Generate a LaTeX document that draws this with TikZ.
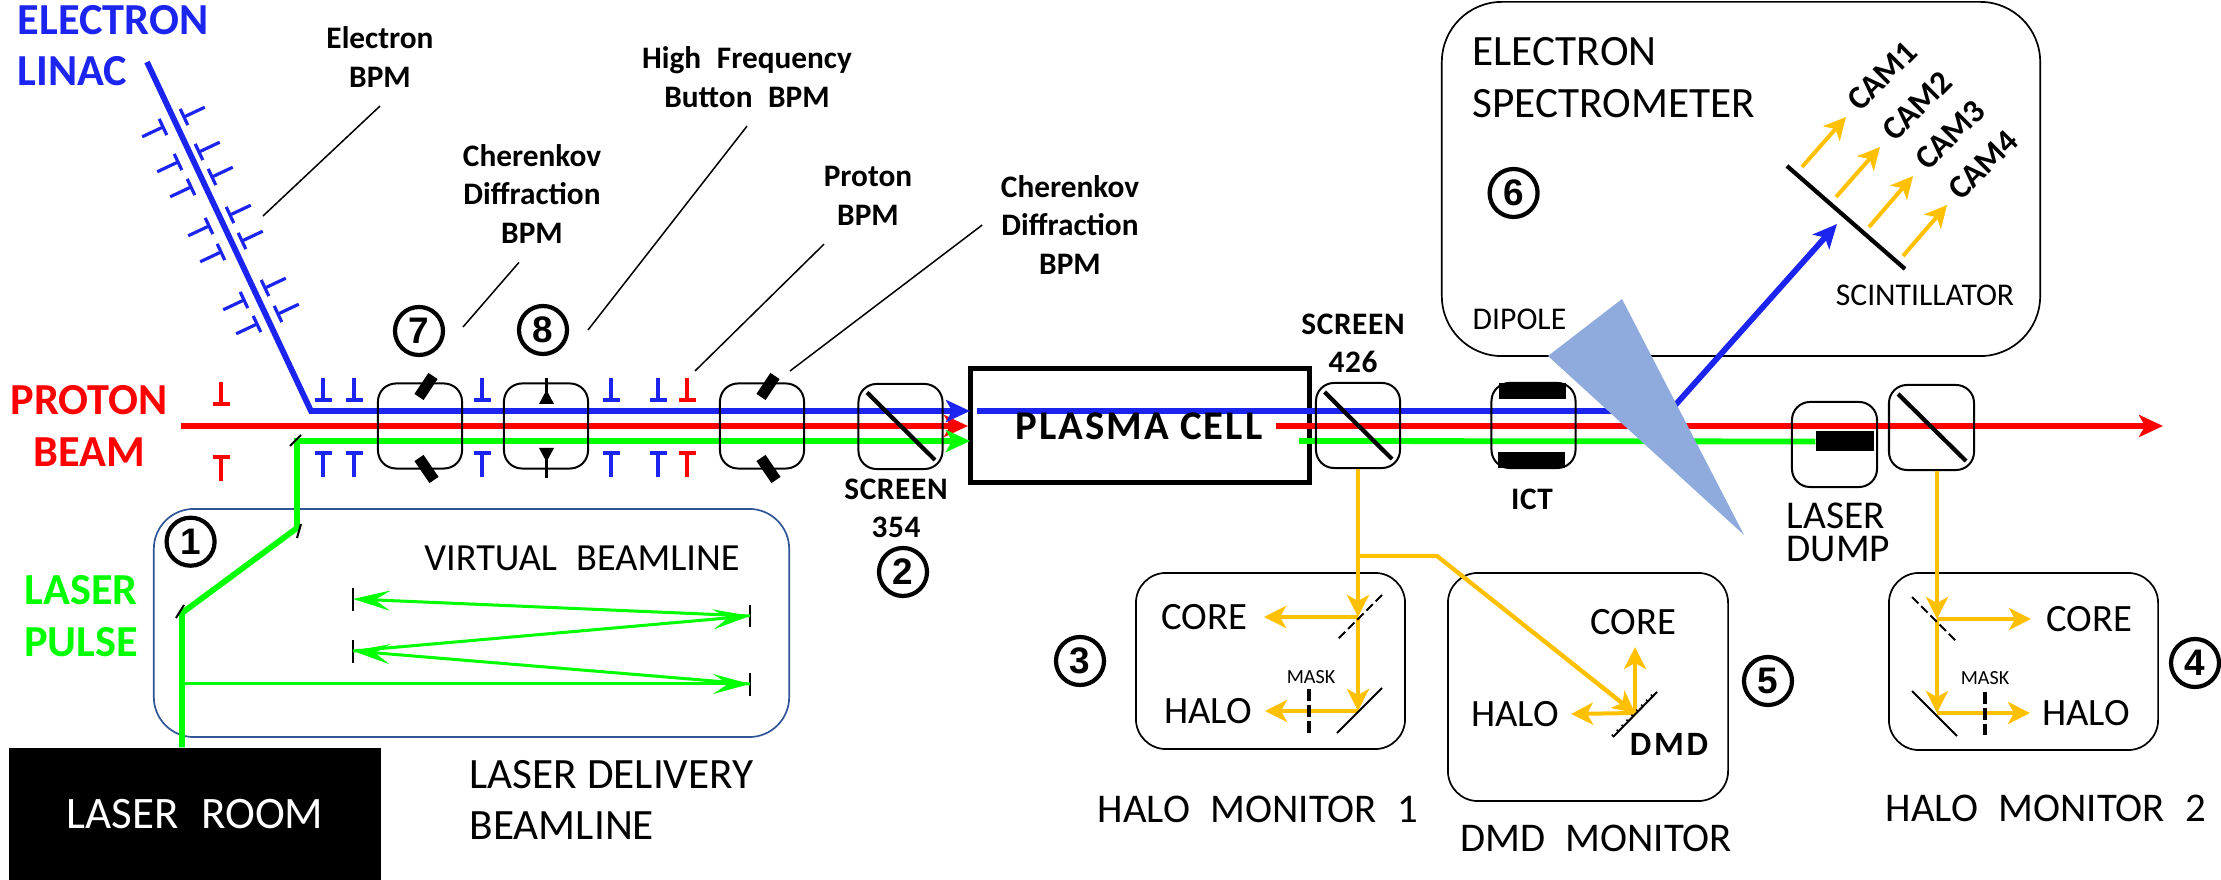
\documentclass[tikz,border=0pt]{standalone}
\usepackage{fontspec}
\setmainfont{Carlito}
\newfontfamily\numfont{Liberation Sans}
\newcommand{\wgap}{\hspace{.5em}}
\usetikzlibrary{
  arrows.meta,
  calc
}
\definecolor{beamblue}{RGB}{28,36,240}
\definecolor{beamred}{RGB}{255,0,0}
\definecolor{beamgreen}{RGB}{0,255,0}
\definecolor{lightorange}{RGB}{255,192,0}
\definecolor{dipoleblue}{RGB}{143,170,220}
\definecolor{deliveryblue}{RGB}{47,85,151}
\tikzset{
  detbox/.style={
    draw,
    rounded corners=1.8mm,
    line width=.2mm,
    minimum width=8.4mm,
    minimum height=8.5mm,
    inner sep=0pt
  },
  roombox/.style={draw,rounded corners=3mm,line width=.17mm,inner sep=0pt},
  numcircle/.style={
    circle,
    draw,
    line width=.42mm,
    minimum size=4.8mm,
    inner sep=0pt,
    font=\numfont\fontsize{10.5}{12}\selectfont\bfseries
  },
  beamname/.style={align=center,inner sep=0pt,font=\fontsize{12.6}{14.6}\selectfont\bfseries},
  bpmlabel/.style={align=center,inner sep=1.8mm,font=\fontsize{8.9}{11}\selectfont\bfseries},
  bignote/.style={align=left,inner sep=0pt,font=\fontsize{12.3}{14.7}\selectfont},
  midnote/.style={align=center,inner sep=0pt,font=\fontsize{11}{13}\selectfont},
  monitornote/.style={inner sep=0pt,font=\fontsize{11.6}{14}\selectfont},
  smallnote/.style={inner sep=0pt,font=\fontsize{9}{11}\selectfont},
  screennote/.style={align=center,inner sep=0pt,font=\fontsize{8.9}{11}\selectfont\bfseries\addfontfeature{LetterSpace=2}},
  camnote/.style={rotate=45,inner sep=0pt,font=\fontsize{9.4}{11}\selectfont\bfseries},
  masknote/.style={inner sep=0pt,font=\fontsize{5.7}{7}\selectfont},
  beamline/.style={line width=.58mm,line join=miter},
  beamtip/.style={-{Stealth[length=2.4mm,width=2.2mm,inset=.6mm]}},
  thingreen/.style={draw=beamgreen,line width=.3mm,-{Stealth[length=3.7mm,width=2mm,inset=1.5mm]}},
  opticline/.style={draw=lightorange,line width=.4mm},
  optictip/.style={opticline,-{Stealth[length=2.2mm,width=2.2mm,inset=.6mm]}},
  bpmblue/.style={draw=beamblue,line width=.32mm},
  bpmred/.style={draw=beamred,line width=.32mm},
  leader/.style={draw=black,line width=.15mm},
  mirror/.style={draw=black,line width=.2mm},
  halfmirror/.style={mirror,dash pattern=on .9mm off .4mm},
  maskline/.style={draw=black,line width=.35mm,dash pattern=on 1.2mm off .4mm},
  screenline/.style={draw=black,line width=.42mm},
  cdbar/.style={draw=black,line width=1.1mm},
}
\begin{document}
\begin{tikzpicture}[x=0.01cm,y=-0.01cm]
  \useasboundingbox (0,0) rectangle (2221,880);

  % Laser delivery box
  \node[roombox,draw=deliveryblue,rounded corners=4mm,minimum width=63.5mm,minimum height=22.8mm] (delivery) at (471.5,623) {};
  \node[roombox,rounded corners=6mm,minimum width=59.8mm,minimum height=35.4mm] (spectro) at (1741,179) {};

  % Beams
  \node[draw=black,line width=.5mm,minimum width=33.8mm,minimum height=11.3mm,inner sep=0pt] (plasma) at (1140,425.5) {};
  \coordinate (protonstart) at (181,426);
  \coordinate (protonin) at (968,426);
  \coordinate (protonout) at (1276,426);
  \coordinate (protonend) at (2163,426);
  \coordinate (linacstart) at (147,62);
  \coordinate (linacbend) at (311,411);
  \coordinate (electronin) at (970,411);
  \coordinate (electronout) at (977,411);
  \coordinate (dipolebend) at (1670,411);
  \coordinate (scintspot) at (1837,224);
  \coordinate (laserbendA) at (182,613);
  \coordinate (laserbendB) at (297,528);
  \coordinate (laserbendC) at (297,441);
  \coordinate (laserin) at (970,441);
  \coordinate (laserout) at (1299,441);
  \node[fill=black,minimum width=5.8mm,minimum height=2mm,inner sep=0pt] (dumpblock) at (1845,441.5) {};
  \node[fill=black,text=white,minimum width=37.2mm,minimum height=13.2mm,inner sep=0pt,font=\fontsize{12.8}{15}\selectfont] (laserroom) at (195,814) {LASER\wgap ROOM};
  \draw[beamline,beamtip,draw=beamred] (protonstart) -- (protonin);
  \draw[beamline,beamtip,draw=beamred] (protonout) -- (protonend);
  \draw[beamline,beamtip,draw=beamblue] (linacstart) -- (linacbend) -- (electronin);
  \draw[beamline,beamtip,draw=beamblue] (electronout) -- (dipolebend) -- (scintspot);
  \draw[beamline,beamtip,draw=beamgreen] (laserroom.north -| laserbendA) -- (laserbendA) -- (laserbendB) -- (laserbendC) -- (laserin);
  \draw[beamline,draw=beamgreen] (laserout) -- (dumpblock.west);
  \fill[dipoleblue] (1622,299) -- (1548,356) -- (1744,535) -- cycle;

  % Steering mirrors and virtual beamline
  \draw[mirror] (301,435) -- (290,446);
  \draw[mirror] (301,524) -- (297,538);
  \draw[mirror] (184,605) -- (176,618);
  \coordinate (vbA) at (353,599);
  \coordinate (vbB) at (353,651);
  \coordinate (vbC) at (750,616);
  \coordinate (vbD) at (750,684);
  \draw[mirror] (353,588) -- (353,611);
  \draw[mirror] (353,640) -- (353,663);
  \draw[mirror] (750,605) -- (750,627);
  \draw[mirror] (750,673) -- (750,696);
  \draw[thingreen] (182,684) -- (vbD);
  \draw[thingreen] (vbD) -- (vbB);
  \draw[thingreen] (vbB) -- (vbC);
  \draw[thingreen] (vbC) -- (vbA);

  % Electron BPMs on the linac
  \foreach \bx/\by in {184/117,199/152,212/177,230/215,242/241,265/288,278/314}
    \draw[bpmblue] (\bx-3.8,\by-8.1) -- (\bx+3.8,\by+8.1) (\bx,\by) -- (\bx+20.8,\by-9.8);
  \foreach \bx/\by in {163/127,178/162,191/187,209/226,221/252,244/300,257/324}
    \draw[bpmblue] (\bx-3.8,\by-8.1) -- (\bx+3.8,\by+8.1) (\bx,\by) -- (\bx-20.8,\by+9.8);

  % BPMs on the common line
  \foreach \bx in {323,354,482,611,658} {
    \draw[bpmblue] (\bx-8.5,400) -- (\bx+8.5,400) (\bx,400) -- (\bx,378);
    \draw[bpmblue] (\bx-8.5,453) -- (\bx+8.5,453) (\bx,453) -- (\bx,477);
  }
  \foreach \bx/\by in {221/4,687/0} {
    \draw[bpmred] (\bx-8.5,400+\by) -- (\bx+8.5,400+\by) (\bx,400+\by) -- (\bx,378+\by);
    \draw[bpmred] (\bx-8.5,453+\by) -- (\bx+8.5,453+\by) (\bx,453+\by) -- (\bx,477+\by);
  }

  % Boxes along the beam
  \node[detbox] (cdbpmA) at (420,426) {};
  \node[detbox] (button) at (546,426) {};
  \node[detbox] (cdbpmB) at (762,426) {};
  \node[detbox] (screenA) at (900.5,426.5) {};
  \node[detbox] (screenB) at (1358,425.5) {};
  \node[detbox] (ict) at (1533.5,425.5) {};
  \node[detbox,minimum width=8.5mm] (dump) at (1834.5,444.5) {};
  \node[detbox,minimum width=8.5mm] (screenC) at (1931.5,427.5) {};
  \foreach \sx in {0,342} {
    \draw[cdbar] (433+\sx,376) -- (419+\sx,397);
    \draw[cdbar] (419+\sx,458) -- (434+\sx,480);
  }
  \draw[black,line width=.3mm] (546,378) -- (546,404);
  \fill (539,404) -- (554,404) -- (546.5,390) -- cycle;
  \draw[black,line width=.3mm] (546,448) -- (546,478);
  \fill (539,448) -- (554,448) -- (546.5,462) -- cycle;
  \draw[screenline] (867,392.5) -- (935,460);
  \draw[screenline] (1324.5,392) -- (1392,459);
  \draw[screenline] (1898,394) -- (1966,461);
  \fill (1499,383) rectangle (1566,399);
  \fill (1498,452) rectangle (1565,468);

  % Beam and BPM labels
  \node[beamname,text=beamblue,align=left,anchor=west] (elinac) at (17,45.5) {ELECTRON\\LINAC};
  \node[beamname,text=beamred] (pbeam) at (89,426) {PROTON\\BEAM};
  \node[beamname,text=beamgreen] (lpulse) at (81,616) {LASER\\PULSE};
  \node[bpmlabel] (lbEBPM) at (380,57) {Electron\\BPM};
  \node[bpmlabel] (lbButton) at (747,77) {High\wgap Frequency\\Button\wgap BPM};
  \node[bpmlabel] (lbCDA) at (532,194) {Cherenkov\\Diffraction\\BPM};
  \node[bpmlabel] (lbPBPM) at (868,196) {Proton\\BPM};
  \node[bpmlabel] (lbCDB) at (1070,225) {Cherenkov\\Diffraction\\BPM};
  \coordinate (ebpmend) at (263,216);
  \coordinate (cdaend) at (463,327);
  \coordinate (buttonend) at (588,330);
  \coordinate (pbpmend) at (695,371);
  \coordinate (cdbend) at (790,371);
  \draw[leader] (lbEBPM.south) -- (ebpmend);
  \draw[leader] ([xshift=-1.3mm]lbCDA.south) -- (cdaend);
  \draw[leader] (lbButton.south) -- (buttonend);
  \draw[leader] ([xshift=-4.4mm]lbPBPM.south) -- (pbpmend);
  \draw[leader] (lbCDB.west) -- (cdbend);
  \node[screennote] (lbScreenA) at (896,508.5) {SCREEN\\354};
  \node[screennote] (lbScreenB) at (1353,343.5) {SCREEN\\426};
  \node[screennote] (lbICT) at (1532,499) {ICT};
  \node[inner sep=0pt,font=\fontsize{11.6}{14}\selectfont\bfseries\addfontfeature{LetterSpace=5}] (lbPlasma) at (1139,426) {PLASMA CELL};

  % Numbers
  \node[numcircle] (nA) at (190.6,541.7) {1};
  \node[numcircle] (nB) at (903,572) {2};
  \node[numcircle] (nC) at (1080,661) {3};
  \node[numcircle] (nD) at (2195,663) {4};
  \node[numcircle] (nE) at (1768,681) {5};
  \node[numcircle] (nF) at (1513.6,193) {6};
  \node[numcircle] (nG) at (419,331) {7};
  \node[numcircle] (nH) at (543,330) {8};

  % Laser delivery labels
  \node[inner sep=0pt,font=\fontsize{10.9}{13}\selectfont] (lbVirtual) at (582,558) {VIRTUAL\wgap BEAMLINE};
  \node[bignote,anchor=west] (lbDelivery) at (469,800) {LASER DELIVERY\\BEAMLINE};

  % Electron spectrometer
  \node[bignote,anchor=west] (lbSpectro) at (1472,77.5) {ELECTRON\\SPECTROMETER};
  \node[smallnote,anchor=west] (lbDipole) at (1472,319) {DIPOLE};
  \node[smallnote] (lbScint) at (1925,295) {SCINTILLATOR};
  \draw[screenline] (1787,166) -- (1905,269);
  \coordinate (camsrcA) at (1802,167);
  \coordinate (camsrcB) at (1836,197);
  \coordinate (camsrcC) at (1869,227);
  \coordinate (camsrcD) at (1903,256);
  \node[camnote] (camA) at (1882,76) {CAM1};
  \node[camnote] (camB) at (1917,106) {CAM2};
  \node[camnote] (camC) at (1950,135) {CAM3};
  \node[camnote] (camD) at (1983,165) {CAM4};
  \draw[optictip] (camsrcA) -- (1846,117);
  \draw[optictip] (camsrcB) -- (1880,147);
  \draw[optictip] (camsrcC) -- (1913,176);
  \draw[optictip] (camsrcD) -- (1947,205);

  % Halo monitor 1
  \node[roombox,minimum width=26.9mm,minimum height=17.6mm] (haloA) at (1270.5,661) {};
  \node[midnote] (coreA) at (1204,617) {CORE};
  \node[midnote] (haloTextA) at (1208,711) {HALO};
  \node[masknote] (maskA) at (1311,677) {MASK};
  \node[monitornote] (lbHaloA) at (1258,809) {HALO\wgap MONITOR\wgap 1};
  \coordinate (branch) at (1358,556);
  \coordinate (splitA) at (1358,617);
  \coordinate (foldA) at (1358,711);
  \draw[opticline] (branch) -- (1437,556) -- (1633,712);
  \draw[optictip] (screenB.south) -- (splitA);
  \draw[optictip] (splitA) -- (foldA);
  \draw[optictip] (splitA) -- (1264,617);
  \draw[optictip] (foldA) -- (1265,711);
  \draw[halfmirror] (1382,595) -- (1337,640);
  \draw[mirror] (1382,688) -- (1337,733);
  \draw[maskline] (1309,689) -- (1309,733);

  % DMD monitor
  \node[roombox,minimum width=28mm,minimum height=22.8mm] (dmdbox) at (1588,687) {};
  \node[midnote] (coreB) at (1633,622) {CORE};
  \node[midnote] (haloTextB) at (1515,714) {HALO};
  \node[inner sep=0pt,font=\fontsize{9.7}{12}\selectfont\bfseries\addfontfeature{LetterSpace=8}] (lbDMD) at (1669,744) {DMD};
  \node[monitornote] (lbDMDMon) at (1596,838) {DMD\wgap MONITOR};
  \coordinate (dmdspot) at (1635,713);
  \draw[optictip] (1437,556) -- (dmdspot);
  \draw[optictip] (dmdspot) -- (1635,647);
  \draw[optictip] (dmdspot) -- (1571,714);
  \draw[mirror] (1613,737) -- (1657,692);
  \draw[black,line width=.3mm,dash pattern=on .15mm off .55mm] (1612.3,736.3) -- (1656.3,691.3);

  % Halo monitor 2
  \node[roombox,minimum width=26.9mm,minimum height=17.7mm] (haloB) at (2023.5,661.5) {};
  \node[midnote] (coreC) at (2089,619) {CORE};
  \node[midnote] (haloTextC) at (2086,713) {HALO};
  \node[masknote] (maskB) at (1985,678) {MASK};
  \node[monitornote] (lbHaloB) at (2046,808) {HALO\wgap MONITOR\wgap 2};
  \node[midnote,align=left,anchor=west,font=\fontsize{11.2}{9.4}\selectfont] (lbDump) at (1786,532.5) {LASER\\DUMP};
  \coordinate (splitB) at (1937,619);
  \coordinate (foldB) at (1937,713);
  \draw[optictip] (screenC.south -| splitB) -- (splitB);
  \draw[optictip] (splitB) -- (foldB);
  \draw[optictip] (splitB) -- (2031,619);
  \draw[optictip] (foldB) -- (2030,713);
  \draw[halfmirror] (1912,597) -- (1957,642);
  \draw[mirror] (1912,691) -- (1957,736);
  \draw[maskline] (1985,692) -- (1985,735);
\end{tikzpicture}
\end{document}
